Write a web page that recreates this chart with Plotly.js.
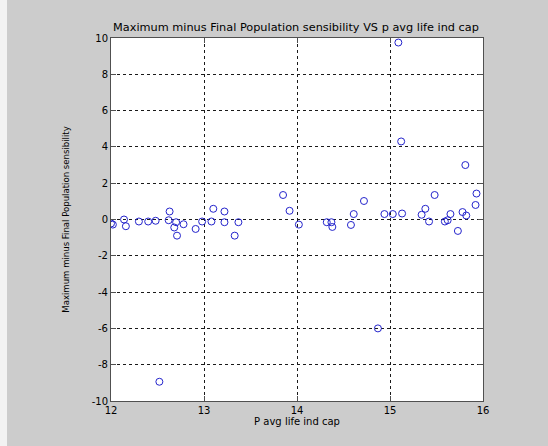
<!DOCTYPE html>
<html><head><meta charset="utf-8">
<script src="https://cdn.plot.ly/plotly-3.0.1.min.js"></script>
<style>html,body{margin:0;padding:0;background:#f2f2f2;}#chart{position:absolute;left:7px;top:0;width:541px;height:446px;}</style>
</head><body><div id="chart"></div>
<script>
const pAvgLife = [12.00, 12.02, 12.14, 12.16, 12.30, 12.40, 12.48, 12.52, 12.63, 12.62, 12.70, 12.68, 12.71, 12.78, 12.91, 12.98, 13.08, 13.10, 13.22, 13.22, 13.37, 13.33, 13.85, 13.92, 14.02, 14.32, 14.37, 14.38, 14.58, 14.61, 14.72, 14.87, 14.94, 15.03, 15.09, 15.12, 15.13, 15.34, 15.38, 15.42, 15.48, 15.59, 15.62, 15.65, 15.73, 15.78, 15.81, 15.82, 15.92, 15.93];
const maxMinusFinal = [-0.22, -0.28, 0.00, -0.37, -0.11, -0.11, -0.07, -8.94, 0.44, -0.04, -0.15, -0.44, -0.89, -0.26, -0.52, -0.11, -0.11, 0.59, 0.44, -0.15, -0.15, -0.89, 1.35, 0.48, -0.28, -0.15, -0.15, -0.41, -0.30, 0.30, 1.02, -6.00, 0.30, 0.30, 9.75, 4.30, 0.33, 0.26, 0.59, -0.11, 1.35, -0.11, -0.04, 0.30, -0.63, 0.41, 3.00, 0.22, 0.80, 1.43];
const xTicks = [12, 13, 14, 15, 16];
const yTicks = [-10, -8, -6, -4, -2, 0, 2, 4, 6, 8, 10];

const wideFont = 'DejaVu Sans, Verdana, sans-serif';
const data = [{
  x: pAvgLife, y: maxMinusFinal, type: 'scatter', mode: 'markers',
  marker: {symbol: 'circle-open', size: 7, color: '#2424cc', line: {width: 1, color: '#2424cc'}},
  hoverinfo: 'none'
}];
const axisCommon = {
  showline: true, mirror: 'ticks', linecolor: '#505050', linewidth: 1,
  ticks: 'inside', ticklen: 5, tickcolor: '#505050',
  showgrid: true, gridcolor: '#1a1a1a', gridwidth: 1, griddash: '3px,3px',
  zeroline: false, tickfont: {family: wideFont, size: 10, color: '#000'}
};
const layout = {
  width: 541, height: 446,
  paper_bgcolor: '#cccccc', plot_bgcolor: '#ffffff',
  margin: {l: 104, r: 65, t: 38, b: 45},
  showlegend: false,
  title: {text: 'Maximum minus Final Population sensibility VS p avg life ind cap',
          font: {family: wideFont, size: 11.3, color: '#000'},
          x: 289/541, xanchor: 'center', y: 1 - 27/446, yanchor: 'middle'},
  xaxis: Object.assign({}, axisCommon, {
    range: [12, 16], tickvals: xTicks, ticktext: xTicks.map(String),
    title: {text: 'P avg life ind cap', standoff: 1, font: {family: wideFont, size: 10, color: '#000'}}
  }),
  yaxis: Object.assign({}, axisCommon, {
    range: [-10, 10], tickvals: yTicks, ticktext: yTicks.map(String),
    title: {text: 'Maximum minus Final Population sensibility', standoff: 20,
            font: {family: 'Liberation Sans Narrow, DejaVu Sans Condensed, Arial, sans-serif', size: 9.5, color: '#000'}}
  })
};
Plotly.newPlot('chart', data, layout, {staticPlot: true, displayModeBar: false});
</script></body></html>
